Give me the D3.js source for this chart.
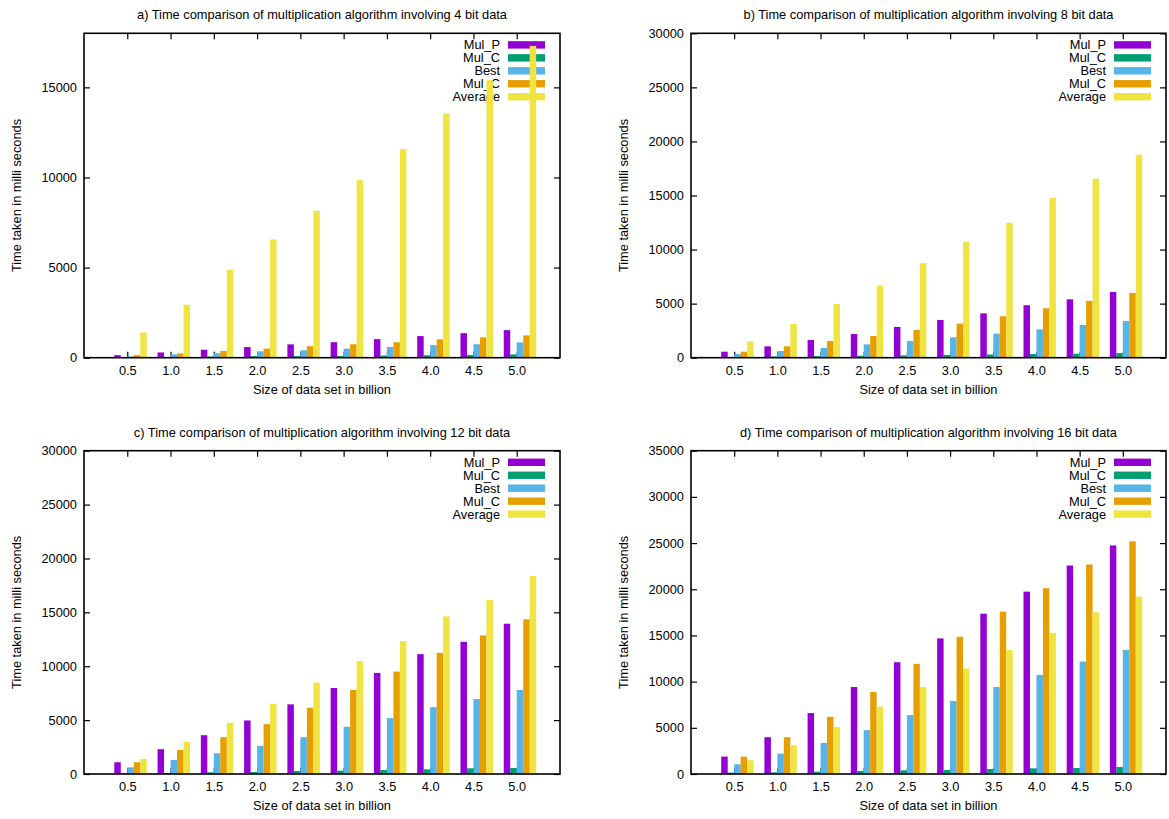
<!DOCTYPE html>
<html><head><meta charset="utf-8">
<script src="https://cdn.jsdelivr.net/npm/d3@7"></script>
<style>
body{margin:0;background:#fff}
svg text{font-family:"Liberation Sans",Arial,Helvetica,sans-serif;fill:#000}
</style>
</head><body>
<svg id="chart" width="1169" height="819"></svg>
<script>
// ---------- data ----------
const sizeLabels = ["0.5","1.0","1.5","2.0","2.5","3.0","3.5","4.0","4.5","5.0"];
const seriesNames = ["Mul_P","Mul_C","Best","Mul_C","Average"];
const seriesColors = ["#9400d3","#009e73","#56b4e9","#e69f00","#f0e442"];
const panelTitles = [
  "a) Time comparison of multiplication algorithm involving 4 bit data",
  "b) Time comparison of multiplication algorithm involving 8 bit data",
  "c) Time comparison of multiplication algorithm involving 12 bit data",
  "d) Time comparison of multiplication algorithm involving 16 bit data"
];
const yMaxes = [18000, 30000, 30000, 35000];
const yTickStep = 5000;

// 4 bit
const mulP_4   = [140, 290, 445, 590, 740, 860, 1030, 1200, 1360, 1530];
const mulC_4   = [25, 40, 70, 90, 90, 95, 120, 135, 150, 185];
const best_4   = [75, 185, 250, 355, 410, 500, 590, 700, 745, 850];
const mulC2_4  = [140, 240, 380, 500, 640, 745, 855, 1020, 1130, 1240];
const avg_4    = [1395, 2940, 4880, 6560, 8150, 9850, 11580, 13550, 15400, 17300];
// 8 bit
const mulP_8   = [555, 1050, 1640, 2190, 2840, 3490, 4100, 4850, 5400, 6080];
const mulC_8   = [60, 120, 150, 185, 215, 250, 300, 340, 370, 430];
const best_8   = [340, 620, 895, 1235, 1545, 1885, 2220, 2620, 3025, 3395];
const mulC2_8  = [555, 1050, 1545, 2005, 2560, 3150, 3830, 4570, 5250, 5990];
const avg_8    = [1510, 3115, 4970, 6670, 8735, 10710, 12470, 14785, 16545, 18765];
// 12 bit
const mulP_12  = [1090, 2300, 3600, 4970, 6460, 7980, 9380, 11120, 12270, 13945];
const mulC_12  = [60, 90, 155, 185, 280, 310, 370, 435, 530, 560];
const best_12  = [620, 1305, 1925, 2610, 3415, 4380, 5185, 6210, 6955, 7795];
const mulC2_12 = [1090, 2235, 3415, 4625, 6150, 7795, 9500, 11240, 12855, 14350];
const avg_12   = [1400, 2980, 4750, 6520, 8480, 10465, 12330, 14625, 16150, 18385];
// 16 bit
const mulP_16  = [1885, 3985, 6595, 9420, 12100, 14675, 17355, 19745, 22570, 24745];
const mulC_16  = [145, 180, 250, 325, 400, 435, 545, 615, 650, 760];
const best_16  = [1050, 2210, 3370, 4745, 6375, 7900, 9420, 10725, 12175, 13440];
const mulC2_16 = [1885, 3985, 6195, 8875, 11920, 14855, 17570, 20110, 22680, 25180];
const avg_16   = [1485, 3115, 5070, 7285, 9420, 11415, 13440, 15290, 17500, 19205];

const panelSeries = [
  [mulP_4, mulC_4, best_4, mulC2_4, avg_4],
  [mulP_8, mulC_8, best_8, mulC2_8, avg_8],
  [mulP_12, mulC_12, best_12, mulC2_12, avg_12],
  [mulP_16, mulC_16, best_16, mulC2_16, avg_16]
];

// ---------- layout ----------
const frames = [
  {x0: 84,  x1: 560,  y0: 33.3,  y1: 357.7},
  {x0: 691, x1: 1166, y0: 33.3,  y1: 357.7},
  {x0: 84,  x1: 560,  y0: 450.7, y1: 774},
  {x0: 691, x1: 1166, y0: 450.7, y1: 774}
];
const barW = 0.15;
const FONT = "12.8px";

const svg = d3.select("#chart");

frames.forEach((f, p) => {
  const g = svg.append("g");
  const x = d3.scaleLinear().domain([-1, 10]).range([f.x0, f.x1]);
  const y = d3.scaleLinear().domain([0, yMaxes[p]]).range([f.y1, f.y0]);
  const yTicks = d3.range(0, yMaxes[p] + 1, yTickStep);
  const cats = d3.range(sizeLabels.length);

  const styleAxis = sel => {
    sel.select(".domain").remove();
    sel.selectAll("line").attr("stroke", "#000").attr("stroke-width", 1.2);
    sel.selectAll("text").attr("font-size", FONT);
    sel.attr("font-family", null).attr("font-size", null);
  };
  g.append("g").attr("transform", `translate(${f.x0},0)`)
    .call(d3.axisLeft(y).tickValues(yTicks).tickSize(-6).tickPadding(7).tickFormat(d3.format("d")))
    .call(styleAxis);
  g.append("g").attr("transform", `translate(${f.x1},0)`)
    .call(d3.axisRight(y).tickValues(yTicks).tickSize(-6).tickFormat(""))
    .call(styleAxis);
  g.append("g").attr("transform", `translate(0,${f.y1})`)
    .call(d3.axisBottom(x).tickValues(cats).tickSize(-6).tickPadding(8.2).tickFormat(i => sizeLabels[i]))
    .call(styleAxis);
  g.append("g").attr("transform", `translate(0,${f.y0})`)
    .call(d3.axisTop(x).tickValues(cats).tickSize(-6).tickFormat(""))
    .call(styleAxis);

  const cx = (f.x0 + f.x1) / 2;
  g.append("text").attr("x", cx).attr("y", f.y0 - 14)
    .attr("text-anchor", "middle").attr("font-size", FONT).text(panelTitles[p]);
  g.append("text").attr("x", cx).attr("y", f.y1 + 36)
    .attr("text-anchor", "middle").attr("font-size", FONT).text("Size of data set in billion");
  g.append("text")
    .attr("transform", `translate(${f.x0 - 67},${(f.y0 + f.y1) / 2}) rotate(-90)`)
    .attr("text-anchor", "middle").attr("dy", "0.35em").attr("font-size", FONT)
    .text("Time taken in milli seconds");

  // legend (drawn beneath bars)
  const leg = g.append("g");
  seriesNames.forEach((name, j) => {
    const ry = f.y0 + 11.6 + 12.95 * j;
    leg.append("text").attr("x", f.x1 - 60).attr("y", ry).attr("dy", "0.35em")
      .attr("text-anchor", "end").attr("font-size", FONT).text(name);
    leg.append("rect").attr("x", f.x1 - 52).attr("y", ry - 3.7)
      .attr("width", 37).attr("height", 7.4).attr("fill", seriesColors[j]);
  });

  // bars
  panelSeries[p].forEach((vals, j) => {
    g.append("g").selectAll("rect").data(vals).join("rect")
      .attr("x", (d, i) => x(i + (j - 2) * barW))
      .attr("width", x(barW) - x(0))
      .attr("y", d => y(d))
      .attr("height", d => y(0) - y(d))
      .attr("fill", seriesColors[j]);
  });

  // border
  g.append("rect").attr("x", f.x0).attr("y", f.y0)
    .attr("width", f.x1 - f.x0).attr("height", f.y1 - f.y0)
    .attr("fill", "none").attr("stroke", "#000").attr("stroke-width", 1.6);
});
</script>
</body></html>
